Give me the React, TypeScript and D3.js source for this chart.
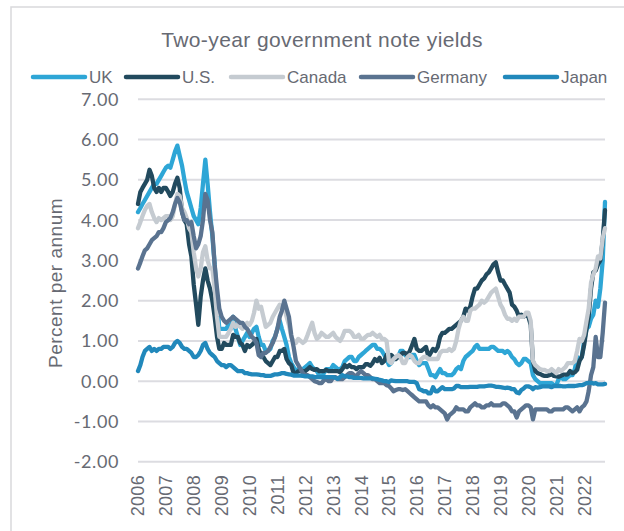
import React, { useEffect, useRef } from 'react';
import * as d3 from 'd3';

// Two-year government note yields, monthly readings (percent per annum)
const seriesNames = ['UK', 'U.S.', 'Canada', 'Germany', 'Japan'];
const seriesColors = ['#2ea6d6', '#224a5e', '#c5cbd1', '#5a7390', '#2188bb'];
const yTicks = [7, 6, 5, 4, 3, 2, 1, 0, -1, -2];
const yearLabels = ['2006', '2007', '2008', '2009', '2010', '2011', '2012', '2013', '2014',
  '2015', '2016', '2017', '2018', '2019', '2020', '2021', '2022'];

// one row per year, Jan..Dec (2022 runs Jan..Oct 1)
const ukYields = [
  [4.2, 4.3, 4.4, 4.5, 4.6, 4.7, 4.8, 4.9, 4.9, 5.0, 5.1, 5.2],
  [5.3, 5.35, 5.3, 5.5, 5.7, 5.85, 5.6, 5.35, 5.0, 4.7, 4.5, 4.3],
  [4.1, 4.0, 3.9, 4.3, 4.9, 5.5, 4.9, 4.2, 3.6, 2.9, 2.0, 1.3],
  [1.3, 1.3, 1.3, 1.4, 1.3, 1.6, 1.3, 1.1, 0.9, 1.0, 1.1, 1.2],
  [1.1, 1.2, 1.3, 1.35, 1.1, 0.9, 0.9, 0.75, 0.75, 0.8, 1.0, 1.1],
  [1.3, 1.5, 1.3, 1.1, 0.9, 0.6, 0.45, 0.35, 0.25, 0.3, 0.3, 0.3],
  [0.35, 0.4, 0.45, 0.35, 0.3, 0.25, 0.15, 0.1, 0.2, 0.3, 0.3, 0.3],
  [0.4, 0.35, 0.3, 0.3, 0.35, 0.5, 0.55, 0.6, 0.6, 0.5, 0.5, 0.6],
  [0.65, 0.7, 0.75, 0.8, 0.85, 0.9, 0.9, 0.8, 0.8, 0.75, 0.65, 0.55],
  [0.4, 0.45, 0.55, 0.6, 0.6, 0.75, 0.75, 0.65, 0.6, 0.6, 0.65, 0.65],
  [0.5, 0.4, 0.45, 0.45, 0.45, 0.3, 0.15, 0.15, 0.1, 0.2, 0.3, 0.2],
  [0.2, 0.15, 0.15, 0.15, 0.2, 0.3, 0.35, 0.3, 0.5, 0.6, 0.65, 0.7],
  [0.75, 0.85, 0.9, 0.8, 0.8, 0.8, 0.8, 0.8, 0.85, 0.85, 0.8, 0.75],
  [0.75, 0.75, 0.7, 0.75, 0.7, 0.6, 0.55, 0.45, 0.4, 0.45, 0.55, 0.55],
  [0.5, 0.45, 0.15, 0.05, 0.0, -0.05, -0.05, -0.05, -0.05, -0.05, -0.05, -0.1],
  [-0.1, 0.05, 0.1, 0.05, 0.05, 0.1, 0.15, 0.15, 0.3, 0.6, 0.55, 0.6],
  [1.0, 1.3, 1.35, 1.55, 1.65, 2.0, 1.85, 2.3, 3.0, 4.45],
];

const usYields = [
  [4.4, 4.7, 4.8, 4.9, 5.0, 5.25, 5.1, 4.8, 4.7, 4.8, 4.7, 4.8],
  [4.8, 4.7, 4.6, 4.7, 4.9, 5.05, 4.8, 4.2, 4.0, 3.9, 3.4, 3.1],
  [2.4, 1.9, 1.4, 2.1, 2.5, 2.8, 2.5, 2.3, 2.0, 1.6, 1.1, 0.8],
  [0.8, 0.95, 0.9, 0.9, 0.9, 1.15, 1.1, 1.1, 0.95, 0.9, 0.75, 0.9],
  [0.85, 0.9, 0.95, 1.05, 0.8, 0.65, 0.6, 0.5, 0.45, 0.4, 0.5, 0.6],
  [0.6, 0.75, 0.75, 0.8, 0.55, 0.45, 0.4, 0.2, 0.2, 0.25, 0.25, 0.25],
  [0.25, 0.3, 0.35, 0.3, 0.28, 0.3, 0.25, 0.25, 0.25, 0.28, 0.25, 0.25],
  [0.25, 0.25, 0.25, 0.22, 0.3, 0.4, 0.35, 0.4, 0.35, 0.35, 0.3, 0.35],
  [0.35, 0.35, 0.42, 0.42, 0.38, 0.45, 0.55, 0.5, 0.58, 0.45, 0.5, 0.65],
  [0.55, 0.65, 0.6, 0.55, 0.6, 0.65, 0.7, 0.7, 0.65, 0.75, 0.9, 1.05],
  [0.8, 0.75, 0.75, 0.8, 0.85, 0.6, 0.7, 0.8, 0.75, 0.85, 1.1, 1.2],
  [1.2, 1.25, 1.3, 1.3, 1.35, 1.4, 1.45, 1.5, 1.6, 1.8, 1.75, 1.85],
  [2.1, 2.3, 2.3, 2.4, 2.5, 2.55, 2.65, 2.7, 2.8, 2.9, 2.95, 2.7],
  [2.5, 2.5, 2.4, 2.3, 2.2, 1.9, 1.85, 1.75, 1.6, 1.65, 1.6, 1.65],
  [1.6, 1.4, 0.5, 0.25, 0.2, 0.18, 0.15, 0.13, 0.13, 0.15, 0.17, 0.13],
  [0.12, 0.11, 0.13, 0.16, 0.16, 0.17, 0.25, 0.2, 0.22, 0.28, 0.5, 0.6],
  [0.9, 1.3, 1.6, 2.3, 2.7, 2.75, 2.9, 3.0, 3.5, 4.25],
];

const canadaYields = [
  [3.8, 3.95, 4.1, 4.25, 4.35, 4.4, 4.2, 4.05, 3.95, 4.05, 4.0, 4.05],
  [4.1, 4.1, 4.0, 4.1, 4.4, 4.65, 4.6, 4.3, 4.2, 4.05, 3.8, 3.7],
  [3.2, 2.8, 2.6, 2.8, 3.2, 3.35, 3.0, 2.8, 2.8, 2.3, 1.6, 1.1],
  [1.1, 1.1, 1.1, 1.2, 1.3, 1.45, 1.35, 1.4, 1.35, 1.3, 1.4, 1.45],
  [1.4, 1.5, 1.7, 2.0, 1.8, 1.85, 1.6, 1.35, 1.4, 1.45, 1.6, 1.7],
  [1.8, 1.9, 1.8, 1.85, 1.6, 1.4, 1.1, 1.0, 0.95, 1.05, 1.0, 0.95],
  [1.0, 1.15, 1.3, 1.45, 1.2, 1.05, 1.1, 1.2, 1.15, 1.1, 1.1, 1.15],
  [1.2, 1.1, 1.05, 1.0, 1.1, 1.25, 1.25, 1.25, 1.2, 1.1, 1.1, 1.15],
  [1.05, 1.05, 1.1, 1.15, 1.15, 1.2, 1.15, 1.1, 1.15, 1.05, 1.05, 1.0],
  [0.5, 0.45, 0.55, 0.6, 0.65, 0.6, 0.45, 0.45, 0.6, 0.65, 0.6, 0.5],
  [0.45, 0.45, 0.55, 0.6, 0.6, 0.55, 0.55, 0.55, 0.55, 0.55, 0.7, 0.75],
  [0.75, 0.75, 0.8, 0.75, 0.8, 1.0, 1.3, 1.5, 1.6, 1.5, 1.5, 1.75],
  [1.8, 1.8, 1.85, 1.9, 2.0, 1.95, 2.0, 2.1, 2.2, 2.25, 2.3, 2.1],
  [1.9, 1.8, 1.65, 1.55, 1.55, 1.5, 1.55, 1.5, 1.6, 1.6, 1.6, 1.7],
  [1.7, 1.5, 0.5, 0.4, 0.35, 0.3, 0.28, 0.28, 0.25, 0.25, 0.3, 0.25],
  [0.2, 0.3, 0.25, 0.3, 0.35, 0.45, 0.45, 0.45, 0.5, 0.75, 1.05, 1.0],
  [1.15, 1.5, 1.8, 2.45, 2.65, 2.8, 3.1, 3.05, 3.55, 3.8],
];

const germanyYields = [
  [2.8, 2.95, 3.1, 3.25, 3.3, 3.4, 3.5, 3.55, 3.6, 3.7, 3.7, 3.8],
  [3.95, 4.0, 4.05, 4.2, 4.4, 4.55, 4.45, 4.2, 4.0, 4.0, 3.9, 3.95],
  [3.6, 3.3, 3.4, 3.6, 4.0, 4.65, 4.5, 4.0, 3.7, 2.9, 2.3, 1.8],
  [1.6, 1.5, 1.45, 1.5, 1.55, 1.6, 1.55, 1.5, 1.45, 1.45, 1.35, 1.3],
  [1.2, 1.1, 1.05, 0.95, 0.65, 0.6, 0.7, 0.7, 0.75, 0.85, 0.95, 1.1],
  [1.3, 1.6, 1.75, 2.0, 1.8, 1.6, 1.15, 0.85, 0.5, 0.4, 0.3, 0.2],
  [0.15, 0.15, 0.1, 0.05, 0.0, -0.02, -0.05, -0.05, 0.02, 0.05, 0.0, 0.0],
  [0.1, 0.1, 0.05, 0.05, 0.05, 0.1, 0.15, 0.2, 0.2, 0.15, 0.12, 0.2],
  [0.25, 0.2, 0.15, 0.15, 0.1, 0.05, 0.05, 0.0, -0.05, -0.05, -0.05, -0.1],
  [-0.12, -0.18, -0.25, -0.22, -0.2, -0.2, -0.22, -0.2, -0.25, -0.3, -0.35, -0.4],
  [-0.45, -0.5, -0.5, -0.5, -0.5, -0.6, -0.65, -0.6, -0.65, -0.65, -0.7, -0.75],
  [-0.8, -0.95, -0.85, -0.8, -0.75, -0.65, -0.7, -0.7, -0.7, -0.75, -0.75, -0.65],
  [-0.6, -0.55, -0.6, -0.6, -0.65, -0.65, -0.6, -0.6, -0.55, -0.6, -0.6, -0.6],
  [-0.6, -0.55, -0.55, -0.6, -0.65, -0.75, -0.75, -0.9, -0.75, -0.7, -0.65, -0.6],
  [-0.6, -0.65, -0.95, -0.7, -0.7, -0.7, -0.7, -0.7, -0.7, -0.75, -0.75, -0.7],
  [-0.7, -0.7, -0.7, -0.7, -0.65, -0.65, -0.7, -0.75, -0.7, -0.65, -0.75, -0.65],
  [-0.6, -0.5, -0.25, 0.15, 0.35, 1.1, 0.6, 0.6, 1.2, 1.95],
];

const japanYields = [
  [0.25, 0.4, 0.6, 0.75, 0.8, 0.85, 0.75, 0.8, 0.75, 0.8, 0.8, 0.85],
  [0.85, 0.85, 0.8, 0.85, 0.95, 1.0, 0.95, 0.85, 0.8, 0.8, 0.75, 0.7],
  [0.6, 0.6, 0.65, 0.75, 0.9, 0.95, 0.8, 0.7, 0.65, 0.6, 0.5, 0.45],
  [0.4, 0.4, 0.35, 0.4, 0.4, 0.35, 0.3, 0.25, 0.25, 0.25, 0.2, 0.2],
  [0.18, 0.17, 0.17, 0.17, 0.16, 0.15, 0.15, 0.13, 0.13, 0.13, 0.15, 0.17],
  [0.17, 0.18, 0.2, 0.2, 0.18, 0.17, 0.16, 0.14, 0.14, 0.14, 0.14, 0.13],
  [0.12, 0.12, 0.12, 0.12, 0.1, 0.1, 0.1, 0.1, 0.1, 0.1, 0.1, 0.1],
  [0.1, 0.08, 0.06, 0.1, 0.15, 0.12, 0.12, 0.1, 0.1, 0.08, 0.08, 0.08],
  [0.08, 0.07, 0.07, 0.07, 0.07, 0.07, 0.06, 0.05, 0.03, 0.02, 0.0, 0.0],
  [-0.02, 0.02, 0.01, 0.0, 0.0, 0.0, 0.0, 0.0, 0.0, -0.02, -0.02, -0.02],
  [-0.05, -0.2, -0.22, -0.25, -0.25, -0.3, -0.3, -0.15, -0.25, -0.25, -0.2, -0.15],
  [-0.2, -0.2, -0.2, -0.2, -0.18, -0.12, -0.12, -0.15, -0.15, -0.15, -0.15, -0.14],
  [-0.14, -0.14, -0.14, -0.13, -0.13, -0.13, -0.12, -0.11, -0.11, -0.12, -0.14, -0.14],
  [-0.15, -0.16, -0.17, -0.16, -0.17, -0.2, -0.2, -0.28, -0.3, -0.22, -0.18, -0.13],
  [-0.13, -0.15, -0.2, -0.15, -0.16, -0.15, -0.13, -0.13, -0.13, -0.13, -0.15, -0.12],
  [-0.12, -0.12, -0.12, -0.13, -0.13, -0.12, -0.12, -0.12, -0.12, -0.11, -0.1, -0.1],
  [-0.08, -0.05, -0.04, -0.04, -0.06, -0.05, -0.08, -0.08, -0.08, -0.07],
];

const allSeries = [ukYields, usYields, canadaYields, germanyYields, japanYields];

interface Point {
  date: Date;
  value: number;
}

const textColor = '#676a73';
const labelFont = '"Liberation Sans", Arial, sans-serif';
const tickFont = 'Lato, "Liberation Sans", sans-serif';

const App: React.FC = () => {
  const svgRef = useRef<SVGSVGElement>(null);

  useEffect(() => {
    if (!svgRef.current) return;
    const svg = d3.select(svgRef.current);
    svg.selectAll('*').remove();

    const width = 624;
    const height = 531;

    const months = d3.timeMonth.range(new Date(2006, 0, 1), new Date(2022, 10, 1));

    const x = d3.scaleTime()
      .domain([new Date(2006, 0, 1), new Date(2022, 9, 1)])
      .range([138, 605]);

    const y = d3.scaleLinear()
      .domain([-2, 7])
      .range([461.7, 99.3]);

    // chart frame
    svg.append('rect')
      .attr('x', 11)
      .attr('y', 7)
      .attr('width', width + 20)
      .attr('height', height + 20)
      .attr('fill', 'white')
      .attr('stroke', '#d9d9dc')
      .attr('stroke-width', 1.5);

    // title
    svg.append('text')
      .attr('x', 322)
      .attr('y', 47)
      .attr('text-anchor', 'middle')
      .attr('font-family', labelFont)
      .attr('font-size', '21px')
      .attr('letter-spacing', '0.4px')
      .attr('fill', textColor)
      .text('Two-year government note yields');

    // legend
    const legendX = [33, 126, 231, 361, 505];
    const legend = svg.append('g');
    seriesNames.forEach((name, i) => {
      legend.append('line')
        .attr('x1', legendX[i])
        .attr('x2', legendX[i] + 52)
        .attr('y1', 77)
        .attr('y2', 77)
        .attr('stroke', seriesColors[i])
        .attr('stroke-width', 4.5)
        .attr('stroke-linecap', 'round');
      legend.append('text')
        .attr('x', legendX[i] + 56)
        .attr('y', 83)
        .attr('font-family', labelFont)
        .attr('font-size', '17px')
        .attr('fill', textColor)
        .text(name);
    });

    // gridlines
    svg.append('g')
      .selectAll('line')
      .data(yTicks)
      .enter()
      .append('line')
      .attr('x1', 138)
      .attr('x2', 605)
      .attr('y1', (d: number) => y(d))
      .attr('y2', (d: number) => y(d))
      .attr('stroke', '#dcdce1')
      .attr('stroke-width', 2);

    // y tick labels
    svg.append('g')
      .selectAll('text')
      .data(yTicks)
      .enter()
      .append('text')
      .attr('x', 119)
      .attr('y', (d: number) => y(d))
      .attr('dy', '0.36em')
      .attr('text-anchor', 'end')
      .attr('font-family', tickFont)
      .attr('font-size', '18px')
      .attr('letter-spacing', '0.6px')
      .attr('fill', textColor)
      .text((d: number) => d.toFixed(2));

    // x tick labels (rotated)
    svg.append('g')
      .selectAll('text')
      .data(yearLabels)
      .enter()
      .append('text')
      .attr('transform', (d: string) => `translate(${x(new Date(+d, 0, 1))},475) rotate(-90)`)
      .attr('dy', '0.36em')
      .attr('text-anchor', 'end')
      .attr('font-family', labelFont)
      .attr('font-size', '18px')
      .attr('letter-spacing', '0.3px')
      .attr('fill', textColor)
      .text((d: string) => d);

    // y axis title
    svg.append('text')
      .attr('transform', 'translate(55,283) rotate(-90)')
      .attr('dy', '0.36em')
      .attr('text-anchor', 'middle')
      .attr('font-family', labelFont)
      .attr('font-size', '19px')
      .attr('letter-spacing', '0.5px')
      .attr('fill', textColor)
      .text('Percent per annum');

    // lines
    const line = d3.line<Point>()
      .x((d: Point) => x(d.date))
      .y((d: Point) => y(d.value));

    allSeries.forEach((rows, i) => {
      const values = rows.flat();
      const points: Point[] = values.map((v, j) => ({ date: months[j], value: v }));
      svg.append('path')
        .datum(points)
        .attr('fill', 'none')
        .attr('stroke', seriesColors[i])
        .attr('stroke-width', 4.3)
        .attr('stroke-linejoin', 'round')
        .attr('stroke-linecap', 'round')
        .attr('d', line);
    });
  }, []);

  return (
    <svg
      ref={svgRef}
      width={624}
      height={531}
      style={{ position: 'absolute', left: 0, top: 0, background: 'white' }}
    />
  );
};

export default App;
